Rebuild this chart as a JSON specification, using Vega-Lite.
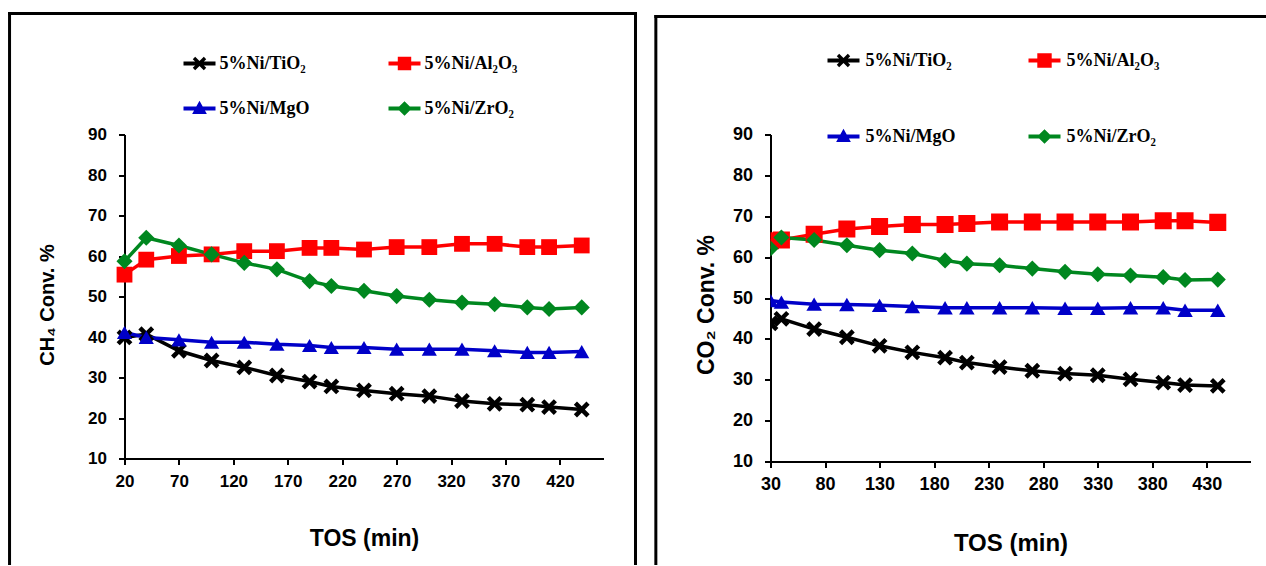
{
  "$schema": "https://vega.github.io/schema/vega-lite/v6.json",
  "padding": {"left": 6.5, "top": 10.5, "right": 0, "bottom": 0},
  "spacing": 15,
  "config": {
    "view": {"stroke": null},
    "axis": {
      "domainColor": "#000000", "domainWidth": 2, "tickColor": "#000000", "tickWidth": 2, "tickSize": 6,
      "grid": false, "labelFont": "Liberation Sans", "labelFontWeight": "bold", "labelColor": "#000000",
      "titleFont": "Liberation Sans", "titleFontWeight": "bold", "titleColor": "#000000",
      "labelFlush": false, "labelOverlap": false
    },
    "legend": {
      "labelFont": "Liberation Serif", "labelFontWeight": "bold", "labelFontSize": 18, "labelColor": "#000000",
      "labelLimit": 400, "padding": 0, "symbolSize": 1024, "title": null
    }
  },
  "resolve": {
    "scale": {"x": "independent", "y": "independent", "color": "independent"},
    "legend": {"color": "independent"}
  },
  "datasets": {
    "ch4": [
      {"s": "5%Ni/TiO₂", "t": 20, "v": 39.9}, {"s": "5%Ni/TiO₂", "t": 40, "v": 40.7}, {"s": "5%Ni/TiO₂", "t": 70, "v": 36.6}, {"s": "5%Ni/TiO₂", "t": 100, "v": 34.2},
      {"s": "5%Ni/TiO₂", "t": 130, "v": 32.5}, {"s": "5%Ni/TiO₂", "t": 160, "v": 30.5}, {"s": "5%Ni/TiO₂", "t": 190, "v": 29.0}, {"s": "5%Ni/TiO₂", "t": 210, "v": 27.8},
      {"s": "5%Ni/TiO₂", "t": 240, "v": 26.8}, {"s": "5%Ni/TiO₂", "t": 270, "v": 26.0}, {"s": "5%Ni/TiO₂", "t": 300, "v": 25.4}, {"s": "5%Ni/TiO₂", "t": 330, "v": 24.2},
      {"s": "5%Ni/TiO₂", "t": 360, "v": 23.5}, {"s": "5%Ni/TiO₂", "t": 390, "v": 23.3}, {"s": "5%Ni/TiO₂", "t": 410, "v": 22.7}, {"s": "5%Ni/TiO₂", "t": 440, "v": 22.1},
      {"s": "5%Ni/Al₂O₃", "t": 20, "v": 55.4}, {"s": "5%Ni/Al₂O₃", "t": 40, "v": 59.1}, {"s": "5%Ni/Al₂O₃", "t": 70, "v": 60.0}, {"s": "5%Ni/Al₂O₃", "t": 100, "v": 60.4},
      {"s": "5%Ni/Al₂O₃", "t": 130, "v": 61.2}, {"s": "5%Ni/Al₂O₃", "t": 160, "v": 61.2}, {"s": "5%Ni/Al₂O₃", "t": 190, "v": 62.0}, {"s": "5%Ni/Al₂O₃", "t": 210, "v": 62.0},
      {"s": "5%Ni/Al₂O₃", "t": 240, "v": 61.6}, {"s": "5%Ni/Al₂O₃", "t": 270, "v": 62.2}, {"s": "5%Ni/Al₂O₃", "t": 300, "v": 62.2}, {"s": "5%Ni/Al₂O₃", "t": 330, "v": 63.0},
      {"s": "5%Ni/Al₂O₃", "t": 360, "v": 63.0}, {"s": "5%Ni/Al₂O₃", "t": 390, "v": 62.2}, {"s": "5%Ni/Al₂O₃", "t": 410, "v": 62.2}, {"s": "5%Ni/Al₂O₃", "t": 440, "v": 62.6},
      {"s": "5%Ni/MgO", "t": 20, "v": 41.1}, {"s": "5%Ni/MgO", "t": 40, "v": 39.9}, {"s": "5%Ni/MgO", "t": 70, "v": 39.3}, {"s": "5%Ni/MgO", "t": 100, "v": 38.7},
      {"s": "5%Ni/MgO", "t": 130, "v": 38.7}, {"s": "5%Ni/MgO", "t": 160, "v": 38.2}, {"s": "5%Ni/MgO", "t": 190, "v": 37.9}, {"s": "5%Ni/MgO", "t": 210, "v": 37.4},
      {"s": "5%Ni/MgO", "t": 240, "v": 37.4}, {"s": "5%Ni/MgO", "t": 270, "v": 37.0}, {"s": "5%Ni/MgO", "t": 300, "v": 37.0}, {"s": "5%Ni/MgO", "t": 330, "v": 37.0},
      {"s": "5%Ni/MgO", "t": 360, "v": 36.6}, {"s": "5%Ni/MgO", "t": 390, "v": 36.2}, {"s": "5%Ni/MgO", "t": 410, "v": 36.2}, {"s": "5%Ni/MgO", "t": 440, "v": 36.4},
      {"s": "5%Ni/ZrO₂", "t": 20, "v": 58.7}, {"s": "5%Ni/ZrO₂", "t": 40, "v": 64.5}, {"s": "5%Ni/ZrO₂", "t": 70, "v": 62.6}, {"s": "5%Ni/ZrO₂", "t": 100, "v": 60.4},
      {"s": "5%Ni/ZrO₂", "t": 130, "v": 58.3}, {"s": "5%Ni/ZrO₂", "t": 160, "v": 56.7}, {"s": "5%Ni/ZrO₂", "t": 190, "v": 53.8}, {"s": "5%Ni/ZrO₂", "t": 210, "v": 52.6},
      {"s": "5%Ni/ZrO₂", "t": 240, "v": 51.4}, {"s": "5%Ni/ZrO₂", "t": 270, "v": 50.1}, {"s": "5%Ni/ZrO₂", "t": 300, "v": 49.2}, {"s": "5%Ni/ZrO₂", "t": 330, "v": 48.5},
      {"s": "5%Ni/ZrO₂", "t": 360, "v": 48.1}, {"s": "5%Ni/ZrO₂", "t": 390, "v": 47.3}, {"s": "5%Ni/ZrO₂", "t": 410, "v": 46.9}, {"s": "5%Ni/ZrO₂", "t": 440, "v": 47.3}
    ],
    "co2": [
      {"s": "5%Ni/TiO₂", "t": 30, "v": 43.8}, {"s": "5%Ni/TiO₂", "t": 40, "v": 44.9}, {"s": "5%Ni/TiO₂", "t": 70, "v": 42.4}, {"s": "5%Ni/TiO₂", "t": 100, "v": 40.4},
      {"s": "5%Ni/TiO₂", "t": 130, "v": 38.3}, {"s": "5%Ni/TiO₂", "t": 160, "v": 36.7}, {"s": "5%Ni/TiO₂", "t": 190, "v": 35.4}, {"s": "5%Ni/TiO₂", "t": 210, "v": 34.2},
      {"s": "5%Ni/TiO₂", "t": 240, "v": 33.1}, {"s": "5%Ni/TiO₂", "t": 270, "v": 32.2}, {"s": "5%Ni/TiO₂", "t": 300, "v": 31.5}, {"s": "5%Ni/TiO₂", "t": 330, "v": 31.1},
      {"s": "5%Ni/TiO₂", "t": 360, "v": 30.1}, {"s": "5%Ni/TiO₂", "t": 390, "v": 29.3}, {"s": "5%Ni/TiO₂", "t": 410, "v": 28.7}, {"s": "5%Ni/TiO₂", "t": 440, "v": 28.5},
      {"s": "5%Ni/Al₂O₃", "t": 30, "v": 64.0}, {"s": "5%Ni/Al₂O₃", "t": 40, "v": 64.2}, {"s": "5%Ni/Al₂O₃", "t": 70, "v": 65.6}, {"s": "5%Ni/Al₂O₃", "t": 100, "v": 66.9},
      {"s": "5%Ni/Al₂O₃", "t": 130, "v": 67.5}, {"s": "5%Ni/Al₂O₃", "t": 160, "v": 68.0}, {"s": "5%Ni/Al₂O₃", "t": 190, "v": 68.0}, {"s": "5%Ni/Al₂O₃", "t": 210, "v": 68.2},
      {"s": "5%Ni/Al₂O₃", "t": 240, "v": 68.6}, {"s": "5%Ni/Al₂O₃", "t": 270, "v": 68.6}, {"s": "5%Ni/Al₂O₃", "t": 300, "v": 68.6}, {"s": "5%Ni/Al₂O₃", "t": 330, "v": 68.6},
      {"s": "5%Ni/Al₂O₃", "t": 360, "v": 68.6}, {"s": "5%Ni/Al₂O₃", "t": 390, "v": 68.9}, {"s": "5%Ni/Al₂O₃", "t": 410, "v": 68.9}, {"s": "5%Ni/Al₂O₃", "t": 440, "v": 68.5},
      {"s": "5%Ni/MgO", "t": 30, "v": 49.4}, {"s": "5%Ni/MgO", "t": 40, "v": 49.0}, {"s": "5%Ni/MgO", "t": 70, "v": 48.5}, {"s": "5%Ni/MgO", "t": 100, "v": 48.4},
      {"s": "5%Ni/MgO", "t": 130, "v": 48.2}, {"s": "5%Ni/MgO", "t": 160, "v": 47.9}, {"s": "5%Ni/MgO", "t": 190, "v": 47.6}, {"s": "5%Ni/MgO", "t": 210, "v": 47.6},
      {"s": "5%Ni/MgO", "t": 240, "v": 47.6}, {"s": "5%Ni/MgO", "t": 270, "v": 47.6}, {"s": "5%Ni/MgO", "t": 300, "v": 47.5}, {"s": "5%Ni/MgO", "t": 330, "v": 47.5},
      {"s": "5%Ni/MgO", "t": 360, "v": 47.6}, {"s": "5%Ni/MgO", "t": 390, "v": 47.6}, {"s": "5%Ni/MgO", "t": 410, "v": 47.0}, {"s": "5%Ni/MgO", "t": 440, "v": 47.0},
      {"s": "5%Ni/ZrO₂", "t": 30, "v": 62.1}, {"s": "5%Ni/ZrO₂", "t": 40, "v": 64.8}, {"s": "5%Ni/ZrO₂", "t": 70, "v": 64.2}, {"s": "5%Ni/ZrO₂", "t": 100, "v": 62.9},
      {"s": "5%Ni/ZrO₂", "t": 130, "v": 61.7}, {"s": "5%Ni/ZrO₂", "t": 160, "v": 60.9}, {"s": "5%Ni/ZrO₂", "t": 190, "v": 59.2}, {"s": "5%Ni/ZrO₂", "t": 210, "v": 58.4},
      {"s": "5%Ni/ZrO₂", "t": 240, "v": 58.0}, {"s": "5%Ni/ZrO₂", "t": 270, "v": 57.2}, {"s": "5%Ni/ZrO₂", "t": 300, "v": 56.4}, {"s": "5%Ni/ZrO₂", "t": 330, "v": 55.8},
      {"s": "5%Ni/ZrO₂", "t": 360, "v": 55.5}, {"s": "5%Ni/ZrO₂", "t": 390, "v": 55.1}, {"s": "5%Ni/ZrO₂", "t": 410, "v": 54.4}, {"s": "5%Ni/ZrO₂", "t": 440, "v": 54.5}
    ]
  },
  "hconcat": [
    {
      "width": 479, "height": 324,
      "data": {"name": "ch4"},
      "layer": [
        {"mark": {"type": "line", "strokeWidth": 3.5},
         "encoding": {
           "x": {"field": "t", "type": "quantitative", "scale": {"domain": [20, 460], "nice": false, "zero": false},
                 "axis": {"values": [20, 70, 120, 170, 220, 270, 320, 370, 420], "title": "TOS (min)", "labelFontSize": 17, "labelPadding": 9, "titleFontSize": 23, "titlePadding": 38}},
           "y": {"field": "v", "type": "quantitative", "scale": {"domain": [10, 90], "nice": false, "zero": false},
                 "axis": {"values": [10, 20, 30, 40, 50, 60, 70, 80, 90], "title": "CH₄ Conv. %", "labelFontSize": 17, "labelPadding": 12, "titleFontSize": 20, "titlePadding": 30, "titleY": 170}},
           "color": {"field": "s", "type": "nominal",
                     "scale": {"domain": ["5%Ni/TiO₂", "5%Ni/MgO", "5%Ni/Al₂O₃", "5%Ni/ZrO₂"], "range": ["#000000", "#0000c8", "#ff0000", "#00871f"]},
                     "legend": {"orient": "none", "legendX": 59, "legendY": -87, "columns": 2, "columnPadding": 79, "rowPadding": 20, "labelOffset": 4,
                                "encode": {"symbols": {"update": {
                                  "shape": {"signal": "test(/Ti/, datum.value) ? 'M-1,-0.13L1,-0.13L1,0.13L-1,0.13Z M-0.42,-0.27L-0.27,-0.42L0,-0.15L0.27,-0.42L0.42,-0.27L0.15,0L0.42,0.27L0.27,0.42L0,0.15L-0.27,0.42L-0.42,0.27L-0.15,0Z' : test(/Al/, datum.value) ? 'M-1,-0.13L1,-0.13L1,0.13L-1,0.13Z M-0.42,-0.42L0.42,-0.42L0.42,0.42L-0.42,0.42Z' : test(/Mg/, datum.value) ? 'M-1,-0.13L1,-0.13L1,0.13L-1,0.13Z M0,-0.48L0.46,0.34L-0.46,0.34Z' : 'M-1,-0.13L1,-0.13L1,0.13L-1,0.13Z M0,-0.46L0.46,0L0,0.46L-0.46,0Z'"},
                                  "fill": {"signal": "test(/Ti/, datum.value) ? '#000000' : test(/Al/, datum.value) ? '#ff0000' : test(/Mg/, datum.value) ? '#0000c8' : '#00871f'"},
                                  "stroke": {"value": "transparent"}, "strokeWidth": {"value": 0}, "opacity": {"value": 1}}}}}}
         }},
        {"transform": [{"filter": {"field": "s", "equal": "5%Ni/TiO₂"}}],
         "mark": {"type": "point", "filled": true, "size": 250, "opacity": 1, "color": "#000000", "shape": "M-1,-0.6L-0.6,-1L0,-0.4L0.6,-1L1,-0.6L0.4,0L1,0.6L0.6,1L0,0.4L-0.6,1L-1,0.6L-0.4,0Z"},
         "encoding": {"x": {"field": "t", "type": "quantitative", "scale": {"domain": [20, 460], "nice": false, "zero": false}},
                      "y": {"field": "v", "type": "quantitative", "scale": {"domain": [10, 90], "nice": false, "zero": false}}}},
        {"transform": [{"filter": {"field": "s", "equal": "5%Ni/Al₂O₃"}}],
         "mark": {"type": "point", "filled": true, "size": 250, "opacity": 1, "color": "#ff0000", "shape": "square"},
         "encoding": {"x": {"field": "t", "type": "quantitative", "scale": {"domain": [20, 460], "nice": false, "zero": false}},
                      "y": {"field": "v", "type": "quantitative", "scale": {"domain": [10, 90], "nice": false, "zero": false}}}},
        {"transform": [{"filter": {"field": "s", "equal": "5%Ni/MgO"}}],
         "mark": {"type": "point", "filled": true, "size": 230, "opacity": 1, "color": "#0000c8", "shape": "triangle-up"},
         "encoding": {"x": {"field": "t", "type": "quantitative", "scale": {"domain": [20, 460], "nice": false, "zero": false}},
                      "y": {"field": "v", "type": "quantitative", "scale": {"domain": [10, 90], "nice": false, "zero": false}}}},
        {"transform": [{"filter": {"field": "s", "equal": "5%Ni/ZrO₂"}}],
         "mark": {"type": "point", "filled": true, "size": 260, "opacity": 1, "color": "#00871f", "shape": "diamond"},
         "encoding": {"x": {"field": "t", "type": "quantitative", "scale": {"domain": [20, 460], "nice": false, "zero": false}},
                      "y": {"field": "v", "type": "quantitative", "scale": {"domain": [10, 90], "nice": false, "zero": false}}}},
        {"data": {"values": [{}]}, "mark": {"type": "rule", "color": "#000000", "strokeWidth": 3, "strokeCap": "square"},
         "encoding": {"x": {"datum": -85.6, "type": "quantitative", "scale": {"domain": [20, 460], "nice": false, "zero": false}}, "x2": {"datum": 489.4},
                      "y": {"datum": 119.88, "type": "quantitative", "scale": {"domain": [10, 90], "nice": false, "zero": false}}}},
        {"data": {"values": [{}]}, "mark": {"type": "rule", "color": "#000000", "strokeWidth": 3, "strokeCap": "square"},
         "encoding": {"x": {"datum": -85.6, "type": "quantitative", "scale": {"domain": [20, 460], "nice": false, "zero": false}},
                      "y": {"datum": 119.88, "type": "quantitative", "scale": {"domain": [10, 90], "nice": false, "zero": false}}, "y2": {"datum": -15.93}}},
        {"data": {"values": [{}]}, "mark": {"type": "rule", "color": "#000000", "strokeWidth": 3, "strokeCap": "square"},
         "encoding": {"x": {"datum": 489.4, "type": "quantitative", "scale": {"domain": [20, 460], "nice": false, "zero": false}},
                      "y": {"datum": 119.88, "type": "quantitative", "scale": {"domain": [10, 90], "nice": false, "zero": false}}, "y2": {"datum": -15.93}}}
      ]
    },
    {
      "width": 480, "height": 327,
      "data": {"name": "co2"},
      "layer": [
        {"mark": {"type": "line", "strokeWidth": 3.5, "clip": true},
         "encoding": {
           "x": {"field": "t", "type": "quantitative", "scale": {"domain": [30, 470], "nice": false, "zero": false},
                 "axis": {"values": [30, 80, 130, 180, 230, 280, 330, 380, 430], "title": "TOS (min)", "labelFontSize": 18, "labelPadding": 8, "titleFontSize": 24, "titlePadding": 38}},
           "y": {"field": "v", "type": "quantitative", "scale": {"domain": [10, 90], "nice": false, "zero": false},
                 "axis": {"values": [10, 20, 30, 40, 50, 60, 70, 80, 90], "title": "CO₂ Conv. %", "labelFontSize": 18, "labelPadding": 12, "titleFontSize": 23, "titlePadding": 14, "titleY": 170}},
           "color": {"field": "s", "type": "nominal",
                     "scale": {"domain": ["5%Ni/TiO₂", "5%Ni/MgO", "5%Ni/Al₂O₃", "5%Ni/ZrO₂"], "range": ["#000000", "#0000c8", "#ff0000", "#00871f"]},
                     "legend": {"orient": "none", "legendX": 57, "legendY": -90, "columns": 2, "columnPadding": 73, "rowPadding": 51, "labelOffset": 6,
                                "encode": {"symbols": {"update": {
                                  "shape": {"signal": "test(/Ti/, datum.value) ? 'M-1,-0.13L1,-0.13L1,0.13L-1,0.13Z M-0.42,-0.27L-0.27,-0.42L0,-0.15L0.27,-0.42L0.42,-0.27L0.15,0L0.42,0.27L0.27,0.42L0,0.15L-0.27,0.42L-0.42,0.27L-0.15,0Z' : test(/Al/, datum.value) ? 'M-1,-0.13L1,-0.13L1,0.13L-1,0.13Z M-0.45,-0.45L0.45,-0.45L0.45,0.45L-0.45,0.45Z' : test(/Mg/, datum.value) ? 'M-1,-0.13L1,-0.13L1,0.13L-1,0.13Z M0,-0.48L0.46,0.34L-0.46,0.34Z' : 'M-1,-0.13L1,-0.13L1,0.13L-1,0.13Z M0,-0.46L0.46,0L0,0.46L-0.46,0Z'"},
                                  "fill": {"signal": "test(/Ti/, datum.value) ? '#000000' : test(/Al/, datum.value) ? '#ff0000' : test(/Mg/, datum.value) ? '#0000c8' : '#00871f'"},
                                  "stroke": {"value": "transparent"}, "strokeWidth": {"value": 0}, "opacity": {"value": 1}}}}}}
         }},
        {"transform": [{"filter": {"field": "s", "equal": "5%Ni/TiO₂"}}],
         "mark": {"type": "point", "filled": true, "size": 250, "opacity": 1, "clip": true, "color": "#000000", "shape": "M-1,-0.6L-0.6,-1L0,-0.4L0.6,-1L1,-0.6L0.4,0L1,0.6L0.6,1L0,0.4L-0.6,1L-1,0.6L-0.4,0Z"},
         "encoding": {"x": {"field": "t", "type": "quantitative", "scale": {"domain": [30, 470], "nice": false, "zero": false}},
                      "y": {"field": "v", "type": "quantitative", "scale": {"domain": [10, 90], "nice": false, "zero": false}}}},
        {"transform": [{"filter": {"field": "s", "equal": "5%Ni/Al₂O₃"}}],
         "mark": {"type": "point", "filled": true, "size": 290, "opacity": 1, "clip": true, "color": "#ff0000", "shape": "square"},
         "encoding": {"x": {"field": "t", "type": "quantitative", "scale": {"domain": [30, 470], "nice": false, "zero": false}},
                      "y": {"field": "v", "type": "quantitative", "scale": {"domain": [10, 90], "nice": false, "zero": false}}}},
        {"transform": [{"filter": {"field": "s", "equal": "5%Ni/MgO"}}],
         "mark": {"type": "point", "filled": true, "size": 240, "opacity": 1, "clip": true, "color": "#0000c8", "shape": "triangle-up"},
         "encoding": {"x": {"field": "t", "type": "quantitative", "scale": {"domain": [30, 470], "nice": false, "zero": false}},
                      "y": {"field": "v", "type": "quantitative", "scale": {"domain": [10, 90], "nice": false, "zero": false}}}},
        {"transform": [{"filter": {"field": "s", "equal": "5%Ni/ZrO₂"}}],
         "mark": {"type": "point", "filled": true, "size": 260, "opacity": 1, "clip": true, "color": "#00871f", "shape": "diamond"},
         "encoding": {"x": {"field": "t", "type": "quantitative", "scale": {"domain": [30, 470], "nice": false, "zero": false}},
                      "y": {"field": "v", "type": "quantitative", "scale": {"domain": [10, 90], "nice": false, "zero": false}}}},
        {"data": {"values": [{}]}, "mark": {"type": "rule", "color": "#000000", "strokeWidth": 3, "strokeCap": "square"},
         "encoding": {"x": {"datum": -75.1, "type": "quantitative", "scale": {"domain": [30, 470], "nice": false, "zero": false}}, "x2": {"datum": 484},
                      "y": {"datum": 118.87, "type": "quantitative", "scale": {"domain": [10, 90], "nice": false, "zero": false}}}},
        {"data": {"values": [{}]}, "mark": {"type": "rule", "color": "#000000", "strokeWidth": 3, "strokeCap": "square"},
         "encoding": {"x": {"datum": -75.1, "type": "quantitative", "scale": {"domain": [30, 470], "nice": false, "zero": false}},
                      "y": {"datum": 118.87, "type": "quantitative", "scale": {"domain": [10, 90], "nice": false, "zero": false}}, "y2": {"datum": -14.95}}}
      ]
    }
  ]
}
